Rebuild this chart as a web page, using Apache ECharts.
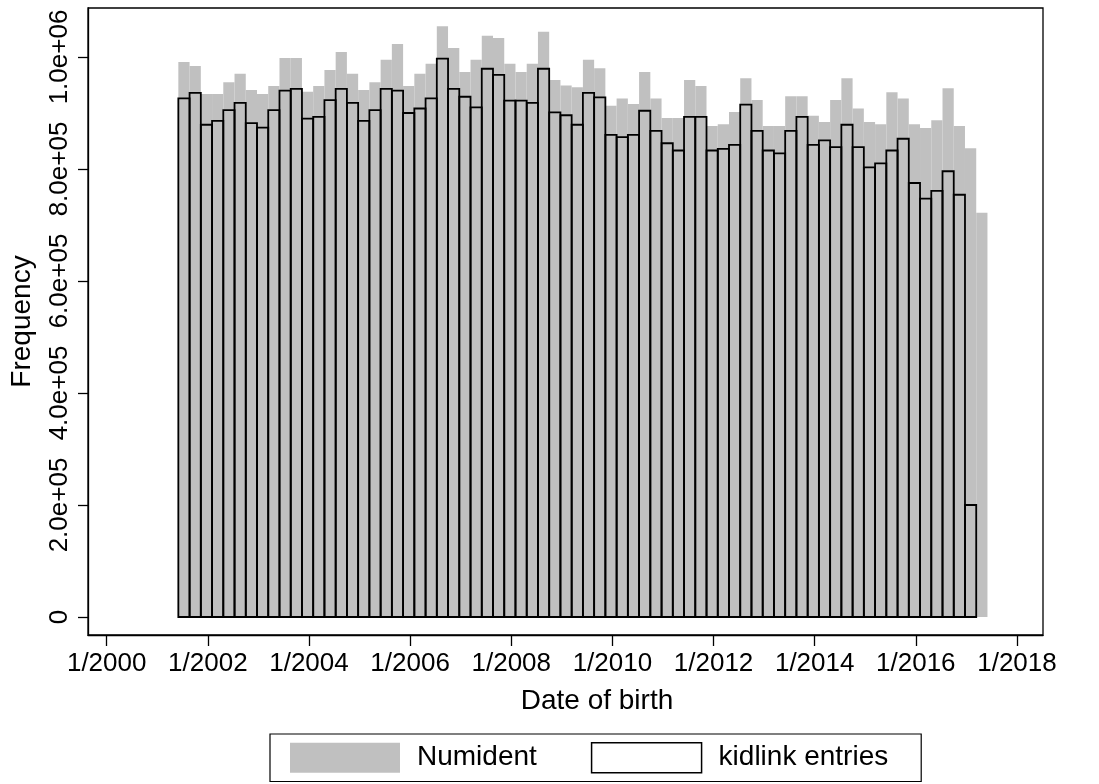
<!DOCTYPE html>
<html>
<head>
<meta charset="utf-8">
<style>
  html, body { margin: 0; padding: 0; background: #fff; }
  #chart { width: 1099px; height: 784px; }
</style>
<script src="https://cdn.jsdelivr.net/npm/echarts@6/dist/echarts.min.js"></script>
</head>
<body>
<div id="chart"></div>
<script>
// ---- data ----
// Histogram bins: start (decimal year) and width (years), shared by both series
const binStartYear = 2001 + 5 / 12;       // 6/2001
const binWidthYears = 16 / 72;            // 2.67 months
// Numident frequencies per bin (72 bins)
const numidentCounts = [
  991000, 984000, 934000, 934000, 955000, 970000, 941000, 934000, 948000, 998000,
  998000, 938000, 948000, 977000, 1009000, 970000, 941000, 955000, 995000, 1023000,
  948000, 970000, 988000, 1055000, 1016000, 973000, 995000, 1038000, 1034000, 988000,
  973000, 988000, 1045000, 959000, 949000, 946000, 995000, 980000, 913000, 926000,
  916000, 973000, 926000, 891000, 891000, 959000, 948000, 877000, 880000, 902000,
  962000, 923000, 877000, 877000, 930000, 930000, 895000, 884000, 923000, 962000,
  908000, 884000, 880000, 937000, 926000, 880000, 873000, 887000, 944000, 877000,
  837000, 722000
];
// kidlink entries frequencies per bin (71 bins)
const kidlinkCounts = [
  926000, 936000, 879000, 886000, 905000, 918000, 882000, 874000, 905000, 940000,
  943000, 890000, 893000, 923000, 943000, 918000, 886000, 905000, 943000, 940000,
  900000, 908000, 926000, 997000, 943000, 929000, 910000, 979000, 968000, 922000,
  922000, 918000, 979000, 901000, 896000, 879000, 936000, 928000, 861000, 857000,
  861000, 904000, 868000, 846000, 833000, 893000, 893000, 833000, 836000, 843000,
  915000, 868000, 833000, 828000, 868000, 893000, 843000, 851000, 839000, 879000,
  839000, 803000, 810000, 833000, 854000, 775000, 747000, 761000, 796000, 754000,
  200000
];
const seriesNames = ['Numident', 'kidlink entries'];
const xTickYears = [2000, 2002, 2004, 2006, 2008, 2010, 2012, 2014, 2016, 2018];
const yTickValues = [0, 200000, 400000, 600000, 800000, 1000000];
const xTitle = 'Date of birth';
const yTitle = 'Frequency';

// ---- build ----
function toBins(counts) {
  return counts.map((c, i) => [binStartYear + i * binWidthYears, binStartYear + (i + 1) * binWidthYears, c]);
}
function fmtY(v) {
  if (v === 0) return '0';
  const e = Math.floor(Math.log10(v));
  const m = v / Math.pow(10, e);
  return m.toFixed(1) + 'e+' + String(e).padStart(2, '0');
}
const FONT = "'Liberation Sans', Arial, Helvetica, sans-serif";
const FS = 26;
const FS_T = 28;

function barRenderer(fill, stroke, lw) {
  return function (params, api) {
    const p0 = api.coord([api.value(0), 0]);
    const p1 = api.coord([api.value(1), api.value(2)]);
    return {
      type: 'rect',
      shape: { x: p0[0], y: p1[1], width: p1[0] - p0[0], height: p0[1] - p1[1] },
      style: { fill: fill, stroke: stroke, lineWidth: lw }
    };
  };
}

const chart = echarts.init(document.getElementById('chart'), null, { renderer: 'canvas' });
chart.setOption({
  animation: false,
  backgroundColor: '#fff',
  textStyle: { fontFamily: FONT },
  grid: {
    left: 88, top: 8, right: 56, bottom: 149,
    show: true, borderColor: '#000', borderWidth: 1.3, backgroundColor: '#fff',
    outerBoundsMode: 'none'
  },
  xAxis: {
    type: 'value',
    min: 1999.6302, max: 2018.515,
    axisLine: { show: true, onZero: false, lineStyle: { color: '#000', width: 1.3 } },
    axisTick: { show: true, length: 11, customValues: xTickYears, lineStyle: { color: '#000', width: 1.3 } },
    axisLabel: {
      customValues: xTickYears, margin: 16, color: '#000', fontSize: FS, fontFamily: FONT,
      formatter: v => '1/' + Math.round(v)
    },
    splitLine: { show: false }
  },
  yAxis: {
    type: 'value',
    min: -32142.857, max: 1087500,
    name: yTitle, nameLocation: 'middle', nameRotate: 90, nameGap: 52,
    nameTextStyle: { color: '#000', fontSize: FS_T, fontFamily: FONT },
    axisLine: { show: true, onZero: false, lineStyle: { color: '#000', width: 1.3 } },
    axisTick: { show: true, length: 10, customValues: yTickValues, lineStyle: { color: '#000', width: 1.3 } },
    axisLabel: {
      customValues: yTickValues, rotate: 90, margin: 15, color: '#000', fontSize: FS, fontFamily: FONT,
      formatter: fmtY
    },
    splitLine: { show: false }
  },
  legend: {
    left: 270, top: 734,
    orient: 'horizontal',
    borderColor: '#000', borderWidth: 1.2,
    padding: [8, 33, 8, 20],
    itemWidth: 110, itemHeight: 30, itemGap: 54,
    textStyle: { color: '#000', fontSize: FS_T, fontFamily: FONT, padding: [0, 0, 0, 12] },
    selectedMode: false,
    data: [
      { name: seriesNames[0], icon: 'rect', itemStyle: { color: '#c0c0c0', borderWidth: 0 } },
      { name: seriesNames[1], icon: 'rect', itemStyle: { color: '#fff', borderColor: '#000', borderWidth: 1.5 } }
    ]
  },
  graphic: [{
    type: 'text', x: 597, y: 701,
    style: { text: xTitle, textAlign: 'center', textVerticalAlign: 'middle', fontSize: FS_T, fontFamily: FONT, fill: '#000' }
  }],
  series: [
    {
      type: 'custom', name: seriesNames[0],
      renderItem: barRenderer('#c0c0c0', null, 0),
      encode: { x: [0, 1], y: 2 },
      itemStyle: { color: '#c0c0c0' },
      data: toBins(numidentCounts),
      z: 1
    },
    {
      type: 'custom', name: seriesNames[1],
      renderItem: barRenderer('rgba(0,0,0,0)', '#000', 1.8),
      encode: { x: [0, 1], y: 2 },
      itemStyle: { color: '#fff', borderColor: '#000' },
      data: toBins(kidlinkCounts),
      z: 2
    }
  ]
});
</script>
</body>
</html>
